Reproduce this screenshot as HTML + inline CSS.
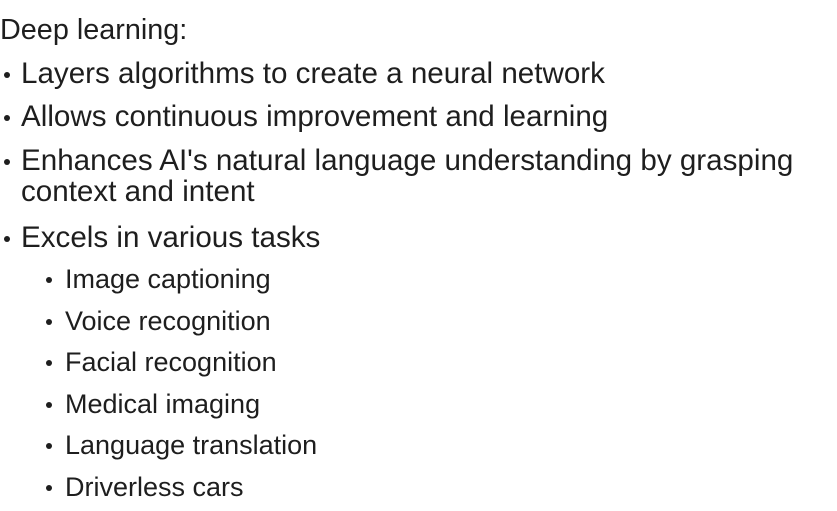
<!DOCTYPE html>
<html><head><meta charset="utf-8"><style>
html,body{margin:0;padding:0;background:#fff;width:837px;height:511px;overflow:hidden}
body{font-family:"Liberation Sans",sans-serif;color:#1e1e1e;font-size:27px;position:relative}
.l{position:absolute;white-space:nowrap;line-height:32px}
.t{font-size:29.6px}
.b{position:absolute;width:6px;height:6px;border-radius:50%;background:#1e1e1e}
</style></head><body>
<div class="l t" style="left:0;top:14px;font-size:28.8px">Deep learning:</div>

<div class="b" style="left:4px;top:72px"></div>
<div class="l t" style="left:21px;top:58px">Layers algorithms to create a neural network</div>

<div class="b" style="left:4px;top:115px"></div>
<div class="l t" style="left:21px;top:101px">Allows continuous improvement and learning</div>

<div class="b" style="left:4px;top:159px"></div>
<div class="l t" style="left:21px;top:145px">Enhances AI's natural language understanding by grasping</div>
<div class="l t" style="left:21px;top:176px">context and intent</div>

<div class="b" style="left:4px;top:236px"></div>
<div class="l t" style="left:21px;top:222px">Excels in various tasks</div>

<div class="b" style="left:46px;top:277px"></div>
<div class="l" style="left:65px;top:263px">Image captioning</div>
<div class="b" style="left:46px;top:319px"></div>
<div class="l" style="left:65px;top:305px">Voice recognition</div>
<div class="b" style="left:46px;top:360px"></div>
<div class="l" style="left:65px;top:346px">Facial recognition</div>
<div class="b" style="left:46px;top:402px"></div>
<div class="l" style="left:65px;top:388px">Medical imaging</div>
<div class="b" style="left:46px;top:443px"></div>
<div class="l" style="left:65px;top:429px">Language translation</div>
<div class="b" style="left:46px;top:485px"></div>
<div class="l" style="left:65px;top:471px">Driverless cars</div>
</body></html>
